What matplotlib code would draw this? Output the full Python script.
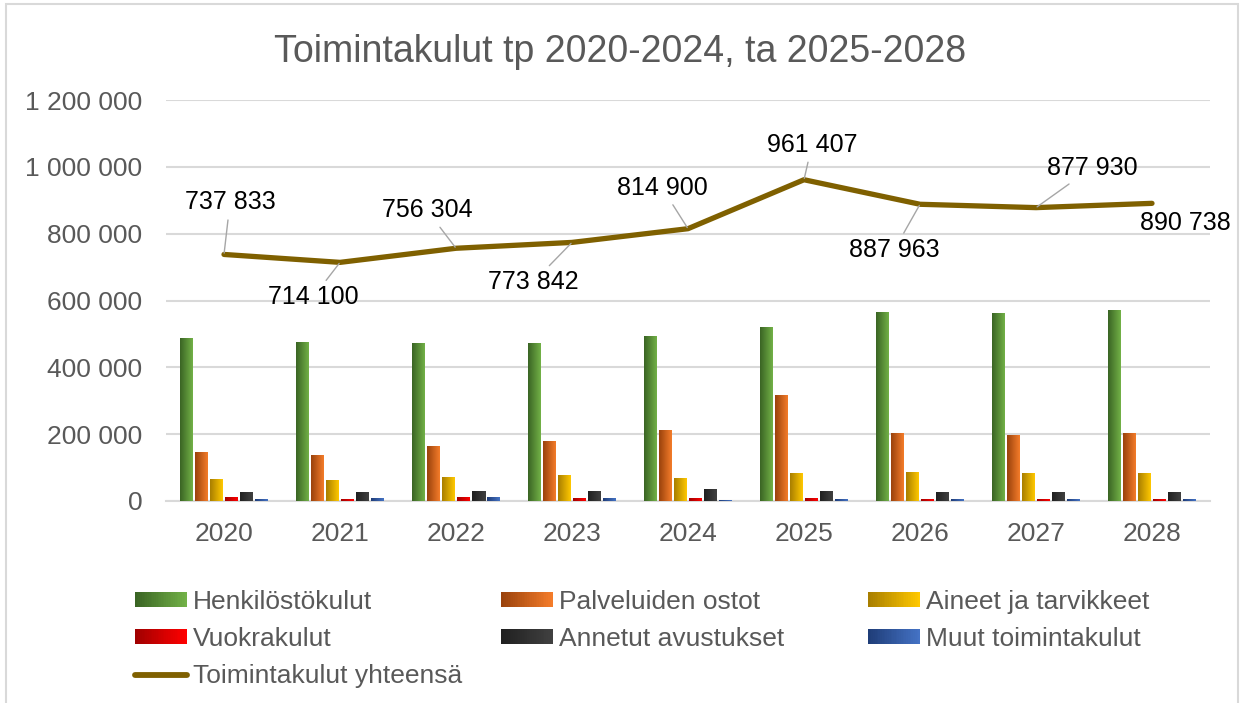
import numpy as np
import matplotlib
matplotlib.use("Agg")
import matplotlib.pyplot as plt
from matplotlib.patches import Rectangle, Patch
from matplotlib.lines import Line2D
from matplotlib.legend_handler import HandlerBase
from matplotlib.colors import to_rgb

plt.rcParams['font.family'] = ['Liberation Sans', 'DejaVu Sans']

# ---------------- data ----------------
years = ['2020', '2021', '2022', '2023', '2024', '2025', '2026', '2027', '2028']
henkilosto = [486000, 474000, 471000, 472000, 492000, 519500, 564500, 561000, 570000]
palvelut = [146500, 137500, 164500, 179500, 209500, 315000, 200500, 197500, 200500]
aineet = [65000, 62000, 71000, 77000, 68000, 83000, 86000, 83000, 83000]
vuokrat = [11000, 5000, 11000, 8000, 8000, 8000, 5000, 5000, 5000]
avustukset = [26000, 26000, 29000, 29000, 35000, 29000, 26000, 26000, 26000]
muut = [5000, 8000, 11000, 8000, 1500, 5000, 5000, 5000, 5000]
yhteensa = [737833, 714100, 756304, 773842, 814900, 961407, 887963, 877930, 890738]
total_labels = ['737 833', '714 100', '756 304', '773 842', '814 900',
                '961 407', '887 963', '877 930', '890 738']
series_names = ['Henkilöstökulut', 'Palveluiden ostot', 'Aineet ja tarvikkeet',
                'Vuokrakulut', 'Annetut avustukset', 'Muut toimintakulut']
line_name = 'Toimintakulut yhteensä'
title = 'Toimintakulut tp 2020-2024, ta 2025-2028'
yticks = [0, 200000, 400000, 600000, 800000, 1000000, 1200000]
ytick_labels = ['0', '200 000', '400 000', '600 000', '800 000', '1 000 000', '1 200 000']

series = [henkilosto, palvelut, aineet, vuokrat, avustukset, muut]
grad_colors = [('#3a6424', '#72b147'), ('#9a420c', '#f47c2a'), ('#a87e00', '#ffc800'),
               ('#a00000', '#ff0000'), ('#202020', '#404040'), ('#1f3d78', '#4472c4')]
line_color = '#7f6000'
grid_color = '#d9d9d9'
text_grey = '#595959'

# label offsets in pixels (dx, dy) relative to points
label_offsets = [(6, 52), (-27, -35), (-29, 38), (-39, -40), (-26, 41),
                 (8, 35), (-26, -46), (56, 40), (33, -20)]
leaders = [True, True, True, True, True, True, True, True, False]

W, H = 1241, 703
DPI = 100
fig = plt.figure(figsize=(W / DPI, H / DPI), dpi=DPI)
fig.patch.set_facecolor('white')

# outer border
fig.add_artist(Rectangle((6 / W, -0.01), (1238 - 6) / W, 1 - 4 / H + 0.01,
                         transform=fig.transFigure, fill=False,
                         edgecolor=grid_color, lw=1.5))

ax = fig.add_axes([166 / W, 1 - 501 / H, (1210 - 166) / W, (501 - 100) / H])
ax.set_facecolor('none')

x = np.arange(len(years))
slot = 15 / 116
bw = 13 / 116


def grad_img(c0, c1, n=64):
    a = np.array(to_rgb(c0))
    b = np.array(to_rgb(c1))
    t = np.linspace(0, 1, n)[:, None]
    return (a * (1 - t) + b * t)[None, :, :]


bar_handles = []
for i, (vals, (c0, c1)) in enumerate(zip(series, grad_colors)):
    pos = x + (i - 2.5) * slot
    bars = ax.bar(pos, vals, width=bw, facecolor='none', edgecolor='none', zorder=3)
    img = grad_img(c0, c1)
    for r in bars.patches:
        x0, y0 = r.get_x(), r.get_y()
        ax.imshow(img, extent=(x0, x0 + r.get_width(), y0, y0 + r.get_height()),
                  aspect='auto', interpolation='bilinear', zorder=3)
    bar_handles.append(Patch(label=series_names[i]))

line, = ax.plot(x, yhteensa, color=line_color, lw=3.8, solid_capstyle='round',
                solid_joinstyle='round', zorder=5, label=line_name)

px2pt = 72 / DPI
for xi, yi, lab, (dx, dy), ld in zip(x, yhteensa, total_labels, label_offsets, leaders):
    ax.annotate(lab, xy=(xi, yi), xytext=(dx * px2pt, dy * px2pt),
                textcoords='offset points', ha='center', va='center',
                fontsize=18, color='black', zorder=6,
                arrowprops=(dict(arrowstyle='-', color='#a6a6a6', lw=1.0,
                                 shrinkA=2, shrinkB=1) if ld else None))

ax.set_xlim(-0.5, len(years) - 0.5)
ax.set_ylim(0, 1200000)
ax.set_yticks(yticks)
ax.set_yticklabels(ytick_labels)
ax.set_xticks(x)
ax.set_xticklabels(years)
ax.tick_params(axis='both', length=0, labelsize=19, labelcolor=text_grey)
ax.tick_params(axis='x', pad=15)
ax.tick_params(axis='y', pad=17)
ax.grid(axis='y', color=grid_color, lw=1.5, zorder=0)
ax.set_axisbelow(True)
for s in ['top', 'right', 'left']:
    ax.spines[s].set_visible(False)
ax.spines['bottom'].set_color(grid_color)
ax.spines['bottom'].set_linewidth(1.5)

fig.text(0.5, 1 - 52 / H, title, ha='center', va='center', fontsize=27, color=text_grey)


class GradHandler(HandlerBase):
    def __init__(self, c0, c1, n=30):
        super().__init__()
        self.c0 = np.array(to_rgb(c0))
        self.c1 = np.array(to_rgb(c1))
        self.n = n

    def create_artists(self, legend, orig_handle, xdescent, ydescent, width,
                       height, fontsize, trans):
        arts = []
        for k in range(self.n):
            t = k / (self.n - 1)
            col = self.c0 * (1 - t) + self.c1 * t
            arts.append(Rectangle((-xdescent + width * k / self.n, -ydescent),
                                  width / self.n * 1.08, height, facecolor=col,
                                  edgecolor='none', transform=trans))
        return arts


hmap = {h: GradHandler(*c) for h, c in zip(bar_handles, grad_colors)}
line_handle = Line2D([], [], color=line_color, lw=4.2, solid_capstyle='round')

cols = [([bar_handles[0], bar_handles[3], line_handle],
         [series_names[0], series_names[3], line_name], 135),
        ([bar_handles[1], bar_handles[4]], [series_names[1], series_names[4]], 501),
        ([bar_handles[2], bar_handles[5]], [series_names[2], series_names[5]], 868)]
for hs, ls, xpx in cols:
    leg = fig.legend(hs, ls, handler_map=hmap, loc='upper left',
                     bbox_to_anchor=(xpx / W, 1 - 590 / H), frameon=False,
                     fontsize=19, labelcolor=text_grey, borderpad=0,
                     borderaxespad=0, handlelength=1.97, handleheight=0.49,
                     handletextpad=0.23, labelspacing=0.5)

fig.savefig('out.png', dpi=DPI, facecolor='white')
